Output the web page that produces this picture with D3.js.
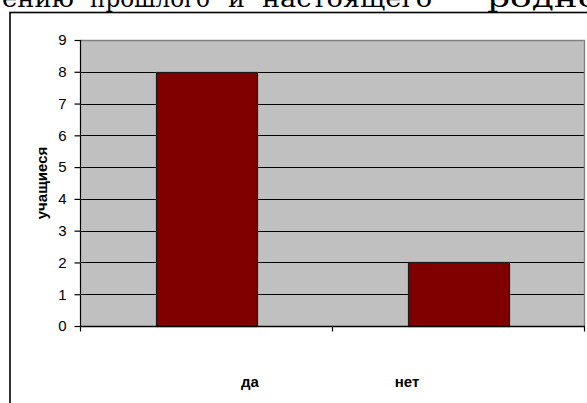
<!DOCTYPE html>
<html>
<head>
<meta charset="utf-8">
<script src="https://cdn.jsdelivr.net/npm/d3@7"></script>
<style>
  html, body { margin: 0; padding: 0; background: #fff; }
  svg { display: block; }
</style>
</head>
<body>
<svg id="chart" width="587" height="403"></svg>
<script>
// Answers and number of pupils for each
const categories = ["да", "нет"];
const counts = [8, 2];
const yTicks = [0, 1, 2, 3, 4, 5, 6, 7, 8, 9];
const yTitle = "учащиеся";
const headingWords = ["ению", "прошлого", "и", "настоящего", "родного"];

const W = 587, H = 403;
const plot = { left: 80, right: 584, top: 40, bottom: 326 };
const sans = "Arial, 'Liberation Sans', sans-serif";

const svg = d3.select("#chart");

// Heading line from the page text above the chart (only its lower part shows);
// each word is fitted into its own span of the line
const headFont = "'DejaVu Serif', 'Liberation Serif', serif";
const wordSpans = [[2, 74], [90, 210], [228, 245], [262, 432], [487, 640]];
svg.append("g").selectAll("text")
  .data(headingWords)
  .join("text")
  .attr("x", (d, i) => wordSpans[i][0])
  .attr("y", 7)
  .attr("textLength", (d, i) => wordSpans[i][1] - wordSpans[i][0])
  .attr("lengthAdjust", "spacingAndGlyphs")
  .attr("font-family", headFont).attr("font-size", 25)
  .attr("fill", "#000")
  .text(d => d);

// Chart frame
svg.append("rect")
  .attr("x", 10).attr("y", 12.5)
  .attr("width", W + 20).attr("height", H + 20)
  .attr("fill", "#fff").attr("stroke", "#000").attr("stroke-width", 1.6);

const x = d3.scaleBand()
  .domain(categories)
  .range([plot.left, plot.right])
  .paddingInner(0.6)
  .paddingOuter(0.3);

const y = d3.scaleLinear()
  .domain([0, 9])
  .range([plot.bottom, plot.top]);

// Plot area
svg.append("rect")
  .attr("x", plot.left).attr("y", plot.top)
  .attr("width", plot.right - plot.left).attr("height", plot.bottom - plot.top)
  .attr("fill", "#c0c0c0");

// Horizontal gridlines
svg.append("g").selectAll("line")
  .data(yTicks.filter(t => t > 0 && t < 9))
  .join("line")
  .attr("x1", plot.left).attr("x2", plot.right)
  .attr("y1", d => Math.round(y(d)) + 0.5).attr("y2", d => Math.round(y(d)) + 0.5)
  .attr("stroke", "#000").attr("stroke-width", 1.2);

// Gray plot border (top and right)
svg.append("path")
  .attr("d", `M${plot.left},${plot.top + 0.5}H${plot.right + 0.5}V${plot.bottom}`)
  .attr("fill", "none").attr("stroke", "#808080").attr("stroke-width", 1.4);

// Bars
svg.append("g").selectAll("rect")
  .data(categories.map((c, i) => ({ c, v: counts[i] })))
  .join("rect")
  .attr("x", d => Math.round(x(d.c)) + 0.5)
  .attr("y", d => Math.round(y(d.v)) + 0.5)
  .attr("width", Math.round(x.bandwidth()))
  .attr("height", d => Math.round(y(0)) - Math.round(y(d.v)))
  .attr("fill", "#800000")
  .attr("stroke", "#1a1a1a").attr("stroke-width", 1.2);

// Y axis
const yAxis = svg.append("g")
  .attr("transform", `translate(${plot.left + 0.5},0)`)
  .call(d3.axisLeft(y).tickValues(yTicks).tickSize(6).tickPadding(8).tickFormat(d3.format("d")));
yAxis.select(".domain").attr("stroke", "#000").attr("stroke-width", 1.2).attr("d", `M0,${plot.top}V${plot.bottom}`);
yAxis.selectAll(".tick line").attr("stroke", "#000").attr("stroke-width", 1.2);
yAxis.selectAll(".tick text")
  .attr("font-family", sans)
  .attr("font-size", 15).attr("fill", "#000");

// X axis line and category boundary ticks
const xAxisY = Math.round(y(0)) + 0.5;
svg.append("line")
  .attr("x1", plot.left).attr("x2", plot.right + 1)
  .attr("y1", xAxisY).attr("y2", xAxisY)
  .attr("stroke", "#000").attr("stroke-width", 1.4);
const catEdges = [plot.left, (plot.left + plot.right) / 2, plot.right];
svg.append("g").selectAll("line")
  .data(catEdges)
  .join("line")
  .attr("x1", d => Math.round(d) + 0.5).attr("x2", d => Math.round(d) + 0.5)
  .attr("y1", xAxisY).attr("y2", xAxisY + 5)
  .attr("stroke", "#000").attr("stroke-width", 1.2);

// Category labels
const labelX = d3.scalePoint().domain(categories).range([250, 407]);
svg.append("g").selectAll("text")
  .data(categories)
  .join("text")
  .attr("x", d => labelX(d))
  .attr("y", 387)
  .attr("text-anchor", "middle")
  .attr("font-family", sans)
  .attr("font-size", 15).attr("font-weight", "bold")
  .attr("fill", "#000")
  .text(d => d);

// Y axis title
svg.append("text")
  .attr("transform", `translate(47,${(plot.top + plot.bottom) / 2}) rotate(-90)`)
  .attr("text-anchor", "middle")
  .attr("font-family", sans)
  .attr("font-size", 15).attr("font-weight", "bold")
  .attr("fill", "#000")
  .text(yTitle);
</script>
</body>
</html>
